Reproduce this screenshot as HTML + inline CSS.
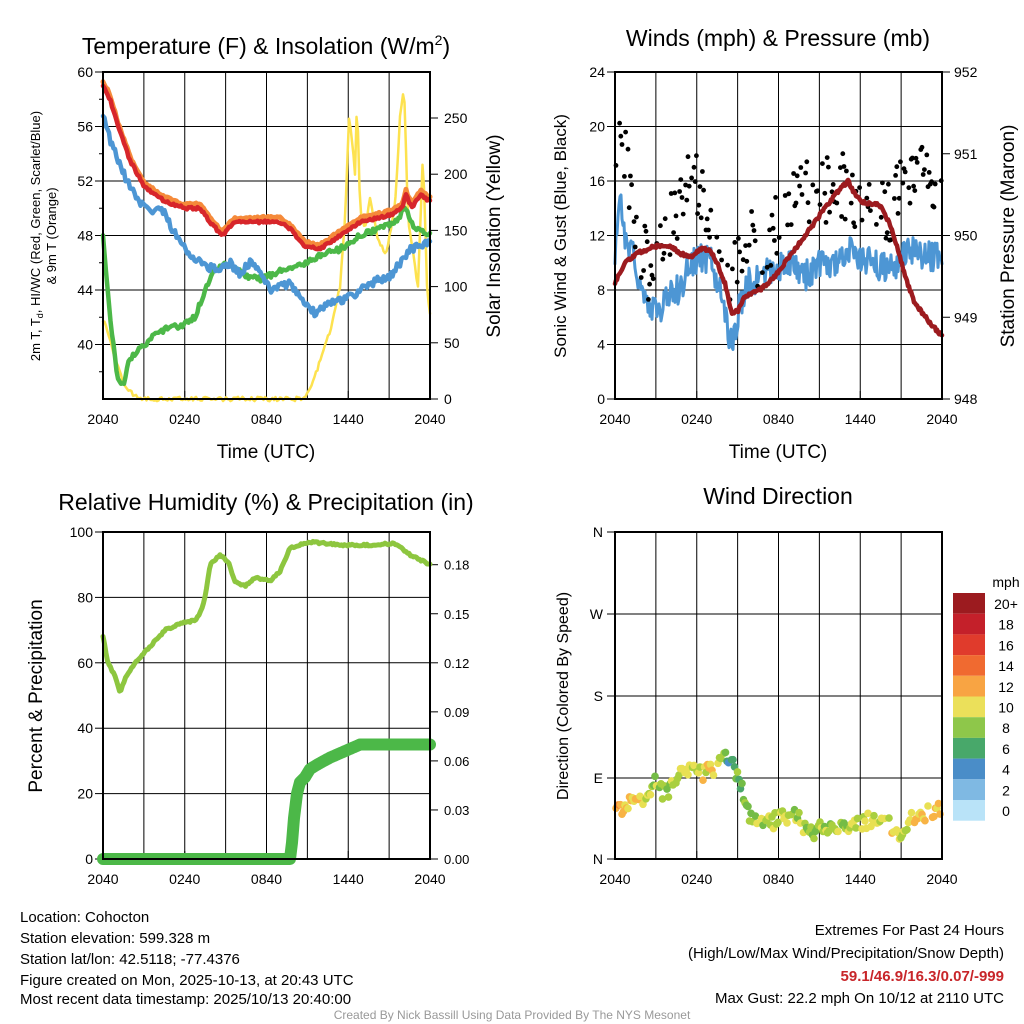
<!DOCTYPE html><html><head><meta charset="utf-8"><style>
body{margin:0;background:#fff;}svg{display:block;font-family:"Liberation Sans",sans-serif;}
</style></head><body>
<svg id="s" width="1024" height="1024" viewBox="0 0 1024 1024" xmlns="http://www.w3.org/2000/svg">
<rect width="1024" height="1024" fill="#fff"/>
<g id="g"></g>
<text x="266" y="54" font-size="23" text-anchor="middle">Temperature (F) &amp; Insolation (W/m<tspan dy="-9" font-size="14">2</tspan><tspan dy="9">)</tspan></text>
<text x="778" y="46" font-size="23" text-anchor="middle">Winds (mph) &amp; Pressure (mb)</text>
<text x="266" y="510" font-size="23" text-anchor="middle">Relative Humidity (%) &amp; Precipitation (in)</text>
<text x="778" y="504" font-size="23" text-anchor="middle">Wind Direction</text>
<text x="266" y="458" font-size="19" text-anchor="middle">Time (UTC)</text>
<text x="778" y="458" font-size="19" text-anchor="middle">Time (UTC)</text>
<g font-size="13" text-anchor="middle">
<text transform="translate(40,236) rotate(-90)">2m T, T<tspan font-size="9" dy="3">d</tspan><tspan dy="-3">, HI/WC (Red, Green, Scarlet/Blue)</tspan></text>
<text transform="translate(56,236) rotate(-90)">&amp; 9m T (Orange)</text>
</g>
<text transform="translate(500,236) rotate(-90)" font-size="19" text-anchor="middle">Solar Insolation (Yellow)</text>
<text transform="translate(566,236) rotate(-90)" font-size="17" text-anchor="middle">Sonic Wind &amp; Gust (Blue, Black)</text>
<text transform="translate(1014,236) rotate(-90)" font-size="19" text-anchor="middle">Station Pressure (Maroon)</text>
<text transform="translate(42,696) rotate(-90)" font-size="19" text-anchor="middle">Percent &amp; Precipitation</text>
<text transform="translate(568,696) rotate(-90)" font-size="16" text-anchor="middle">Direction (Colored By Speed)</text>
<g font-size="15">
<text x="20" y="922">Location: Cohocton</text>
<text x="20" y="943">Station elevation: 599.328 m</text>
<text x="20" y="964">Station lat/lon: 42.5118; -77.4376</text>
<text x="20" y="985">Figure created on Mon, 2025-10-13, at 20:43 UTC</text>
<text x="20" y="1004">Most recent data timestamp: 2025/10/13 20:40:00</text>
<text x="1004" y="935" text-anchor="end">Extremes For Past 24 Hours</text>
<text x="1004" y="958" text-anchor="end">(High/Low/Max Wind/Precipitation/Snow Depth)</text>
<text x="1004" y="981" text-anchor="end" fill="#c8262a" font-weight="bold">59.1/46.9/16.3/0.07/-999</text>
<text x="1004" y="1003" text-anchor="end">Max Gust: 22.2 mph On 10/12 at 2110 UTC</text>
</g>
<text x="512" y="1019" font-size="12" fill="#999" text-anchor="middle">Created By Nick Bassill Using Data Provided By The NYS Mesonet</text>
</svg>
<script>
var NS="http://www.w3.org/2000/svg",G=document.getElementById("g");
function el(t,a,p){var e=document.createElementNS(NS,t);for(var k in a)e.setAttribute(k,a[k]);(p||G).appendChild(e);return e;}
function tx(x,y,s,anc,fs){var e=el("text",{x:x,y:y,"font-size":fs||14,"text-anchor":anc||"middle"});e.textContent=s;return e;}
var st=123456789;function rnd(){st|=0;st=st+0x6D2B79F5|0;var t=Math.imul(st^st>>>15,1|st);t=t+Math.imul(t^t>>>7,61|t)^t;return((t^t>>>14)>>>0)/4294967296;}
function interp(pts,x){for(var i=1;i<pts.length;i++){if(x<=pts[i][0]){var a=pts[i-1],b=pts[i];return a[1]+(b[1]-a[1])*(x-a[0])/(b[0]-a[0]||1);}}return pts[pts.length-1][1];}
function line(pts,fy,col,w,noise,step){var d="";step=step||1;var x0=pts[0][0],x1=pts[pts.length-1][0];for(var x=x0;x<=x1;x+=step){var v=interp(pts,x)+(noise?(rnd()-0.5)*noise:0);d+=(d?"L":"M")+x.toFixed(1)+","+fy(v).toFixed(1);}el("path",{d:d,fill:"none",stroke:col,"stroke-width":w,"stroke-linejoin":"round","stroke-linecap":"round"});}
function frame(L,T,R,B,nx,ylines){
 for(var i=1;i<8;i++){var x=L+(R-L)*i/8;el("line",{x1:x,y1:T,x2:x,y2:B,stroke:"#000","stroke-width":1});}
 ylines.forEach(function(y){el("line",{x1:L,y1:y,x2:R,y2:y,stroke:"#000","stroke-width":1});});
 var labs=["2040","0240","0840","1440","2040"];for(var i=0;i<5;i++){var x=L+(R-L)*i/4;tx(x,B+25,labs[i],"middle",14);el("line",{x1:x,y1:B,x2:x,y2:B-8,stroke:"#000"});}
}
function box(L,T,R,B){el("rect",{x:L,y:T,width:R-L,height:B-T,fill:"none",stroke:"#000","stroke-width":2});}
// Panel1
var L1=103,R1=430,T1=72,B1=399;
var fT=function(v){return T1+(60-v)*(B1-T1)/24;},fS=function(v){return B1-v*1.124;};
var yl=[];[40,44,48,52,56].forEach(function(v){yl.push(fT(v));});frame(L1,T1,R1,B1,8,yl);
[40,44,48,52,56,60].forEach(function(v){tx(L1-10,fT(v)+5,String(v),"end",14);el("line",{x1:L1,y1:fT(v),x2:L1-8,y2:fT(v),stroke:"#000"});});
[38,42,46,50,54,58].forEach(function(v){el("line",{x1:L1,y1:fT(v),x2:L1-4,y2:fT(v),stroke:"#000"});});
[0,50,100,150,200,250].forEach(function(v){tx(R1+14,fS(v)+5,String(v),"start",14);el("line",{x1:R1,y1:fS(v),x2:R1+8,y2:fS(v),stroke:"#000"});});
var yel=[[103,70],[108,60],[112,45],[118,30],[125,10],[140,0],[305,0],[315,20],[330,60],[340,100],[345,160],[349,250],[352,230],[355,200],[357,270],[360,170],[365,150],[370,180],[378,140],[386,130],[395,170],[400,250],[404,280],[408,160],[413,130],[418,100],[423,220],[427,100],[430,75]];
line(yel,fS,"#fde24f",2.5,4,1.5);
var grn=[[103,48],[105,46],[110,42],[115,39],[118,37.5],[123,37],[130,39],[145,40],[160,41],[185,41.5],[195,42],[205,44],[215,45.5],[230,46],[245,45],[260,44.8],[275,45.2],[290,45.7],[305,46],[320,46.5],[340,47],[360,48],[380,48.5],[395,49],[405,50],[415,48.5],[430,48]];
line(grn,fT,"#4cb848",4.5,0.4,1.5);
var blu=[[103,57],[110,55],[118,53.5],[130,51.5],[145,50],[165,49.8],[172,48.5],[185,47],[200,46],[215,45.5],[230,46],[240,45.2],[250,46],[262,45],[272,44],[290,44.5],[300,43.5],[315,42.3],[330,43],[350,43.5],[370,44.5],[390,45],[410,47],[430,47.5]];
line(blu,fT,"#4d96d4",4.5,0.6,1.5);
var red=[[103,59],[110,58],[118,56],[130,53.5],[145,51.5],[165,50.5],[185,50],[200,50],[210,49],[222,48],[235,49],[260,49],[280,49],[290,48.5],[305,47.2],[320,47],[340,48],[360,49],[390,49.5],[402,50],[406,51],[412,50],[420,51],[430,50.5]];
line(red.map(function(p){return [p[0],p[1]+0.3];}),fT,"#f58a3a",5,0.2,1.5);
line(red,fT,"#d7262b",4.5,0.2,1.5);
box(L1,T1,R1,B1);
// Panel2
var L2=615,R2=942,T2=72,B2=399;
var fW=function(v){return B2-v*(B2-T2)/24;};
var yl2=[];[4,8,12,16,20].forEach(function(v){yl2.push(fW(v));});frame(L2,T2,R2,B2,8,yl2);
[0,4,8,12,16,20,24].forEach(function(v){tx(L2-10,fW(v)+5,String(v),"end",14);el("line",{x1:L2,y1:fW(v),x2:L2-8,y2:fW(v),stroke:"#000"});});
[948,949,950,951,952].forEach(function(v,i){var y=fW(i*6);tx(R2+12,y+5,String(v),"start",14);el("line",{x1:R2,y1:y,x2:R2+8,y2:y,stroke:"#000"});});
var wnd=[[615,11],[618,14],[621,15],[625,12],[632,11],[640,8],[650,7],[660,6],[670,8],[680,8],[690,10],[700,10.5],[712,10],[720,8],[728,5],[733,4],[740,7],[748,8.5],[760,9],[775,9.5],[790,10],[805,9],[820,10],[835,10],[850,11],[870,10],[890,9.5],[910,11],[925,10.5],[942,10.5]];
line(wnd,fW,"#4d96d4",3,2.2,1);
var gs=[[615,14],[620,20],[625,18],[632,15],[640,11],[652,9],[665,11],[680,15],[690,16],[700,15],[712,12],[722,10],[730,8],[740,11],[750,12],[760,10],[775,12.5],[790,14],[805,15],[820,15],[840,16],[855,15],[870,15],[890,14],[910,16],[925,16],[942,17]];
for(var x=616;x<942;x+=1.2){if(rnd()<0.65){var v=interp(gs,x)+(rnd()-0.5)*5;el("circle",{cx:x.toFixed(1),cy:fW(v).toFixed(1),r:2.4,fill:"#000"});}}
var prs=[[615,8.5],[625,10],[640,10.8],[655,11.2],[670,11.2],[680,10.7],[690,10.4],[700,11],[710,11],[718,9.8],[725,8.5],[732,6.2],[738,6.5],[745,7.5],[760,8],[775,9],[790,10.5],[805,12],[820,13.5],[835,15],[848,16],[855,15],[862,14.5],[880,14.2],[890,12.8],[898,11],[905,9],[915,7],[930,5.6],[942,4.6]];
line(prs,fW,"#9c1b1f",4.5,0.25,1);
box(L2,T2,R2,B2);
// Panel3
var L3=103,R3=430,T3=532,B3=859;
var fR=function(v){return B3-v*(B3-T3)/100;},fP=function(v){return B3-v*(B3-T3)/0.2;};
var yl3=[];[20,40,60,80].forEach(function(v){yl3.push(fR(v));});frame(L3,T3,R3,B3,8,yl3);
[0,20,40,60,80,100].forEach(function(v){tx(L3-10,fR(v)+5,String(v),"end",14);el("line",{x1:L3,y1:fR(v),x2:L3-8,y2:fR(v),stroke:"#000"});});
[0,0.03,0.06,0.09,0.12,0.15,0.18].forEach(function(v){tx(R3+14,fP(v)+5,v.toFixed(2),"start",13);el("line",{x1:R3,y1:fP(v),x2:R3+8,y2:fP(v),stroke:"#000"});});
var pr=[[103,0],[290,0],[292,0.01],[294,0.025],[297,0.04],[300,0.047],[305,0.05],[310,0.055],[318,0.058],[330,0.062],[345,0.066],[360,0.07],[430,0.07]];
line(pr,fP,"#4cb848",12,0,1);
var rh=[[103,68],[108,60],[115,56],[120,51],[125,55],[135,60],[150,65],[165,70],[180,72],[195,73],[200,75],[205,80],[210,90],[220,93],[228,91],[235,85],[245,83.5],[255,86],[270,85],[280,88],[290,95],[310,97],[340,96],[370,96],[395,96.5],[410,93],[430,90]];
line(rh,fR,"#8dc63f",5,0.6,1.5);
box(L3,T3,R3,B3);
// Panel4
var L4=615,R4=942,T4=532,B4=859;
var ys=[B4,778,696,614,T4],ln=["N","E","S","W","N"];
frame(L4,T4,R4,B4,8,ys.slice(1,4));
ys.forEach(function(y,i){tx(L4-12,y+5,ln[i],"end",14);el("line",{x1:L4,y1:y,x2:L4-8,y2:y,stroke:"#000"});});
var cols=["#b3e1f7","#7fb9e3","#4a8fcb","#4ba66a","#74bc46","#a9cf3f","#e8e053","#f8b345","#f07c32","#e14a2c","#d22a28","#9c1b1f"];
var dr=[[615,815],[625,805],[640,800],[655,782],[665,795],[680,776],[690,771],[700,775],[715,769],[725,752],[733,765],[740,780],[750,818],[765,825],[780,818],[795,815],[810,832],[830,826],[850,826],[870,820],[890,826],[900,832],[910,820],[930,812],[942,806]];
var sp=[[615,13],[640,11],[660,7],[680,9],[700,9],[715,11],[728,4],[740,6],[760,8],[790,9],[810,7],[840,8],[870,10],[900,9],[920,11],[942,11]];
for(var x=616;x<942;x+=1.5){if(rnd()<0.8){var y=interp(dr,x)+(rnd()-0.5)*16;var s=interp(sp,x)+(rnd()-0.5)*4;var ci=Math.max(1,Math.min(10,Math.round(s/2)+1));el("circle",{cx:x.toFixed(1),cy:y.toFixed(1),r:3.8,fill:cols[ci]});}}
box(L4,T4,R4,B4);
tx(1006,587,"mph","middle",14);
var cb=["#9c1b1f","#c4202a","#e03b2c","#f06a30","#f8a443","#ebe05a","#8ec74a","#48a86a","#4a8dc8","#7fb9e3","#b9e3f8"],lb=["20+","18","16","14","12","10","8","6","4","2","0"];
for(var i=0;i<11;i++){var y=593+i*20.7;el("rect",{x:953,y:y,width:32,height:20.7,fill:cb[i]});tx(1006,y+16,lb[i],"middle",14);}
</script>
</body></html>
